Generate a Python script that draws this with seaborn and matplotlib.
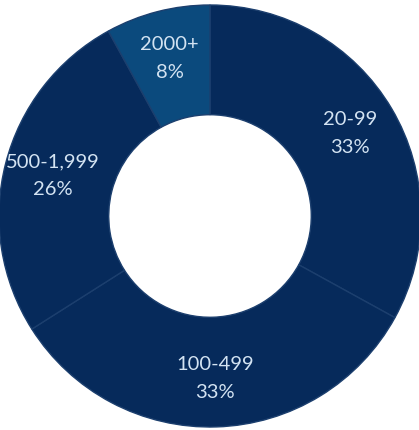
import numpy as np
import matplotlib
matplotlib.use("Agg")
import matplotlib.pyplot as plt
import seaborn as sns

# --- data ---
categories = ['20-99', '100-499', '500-1,999', '2000+']
shares = [33, 33, 26, 8]
share_labels = ['33%', '33%', '26%', '8%']

# colours
NAVY = '#062a5b'
LIGHT = '#0b4a7d'
slice_colors = [NAVY, NAVY, NAVY, LIGHT]

sns.set_theme(style="white")
plt.rcParams['font.family'] = ['Lato', 'DejaVu Sans']

fig = plt.figure(figsize=(4.19, 4.30), dpi=100)
ax = fig.add_axes([0, 0, 1, 1])

wedges, _ = ax.pie(shares, colors=slice_colors, startangle=90, counterclock=False,
                   radius=1.0, wedgeprops=dict(width=0.52, edgecolor='#1c3f6e', linewidth=1.0))

# labels sit in the middle of the ring, name over value
label_r = 0.77
start = 90.0
for name, val, lab in zip(categories, shares, share_labels):
    mid = np.deg2rad(start - val * 3.6 / 2)
    start -= val * 3.6
    x, y = label_r * np.cos(mid), label_r * np.sin(mid)
    ax.text(x, y, f"{name}\n{lab}", ha='center', va='center', fontsize=14.5,
            color='#d3e3f2', linespacing=1.75)

# pie centre at about (210, 216) px of a 419x430 picture, radius ~211 px
R = 211
ax.set_xlim(-210 / R, (419 - 210) / R)
ax.set_ylim(-(430 - 216) / R, 216 / R)
ax.set_aspect('equal')
ax.axis('off')

fig.savefig('out.png', dpi=100, facecolor='white')
